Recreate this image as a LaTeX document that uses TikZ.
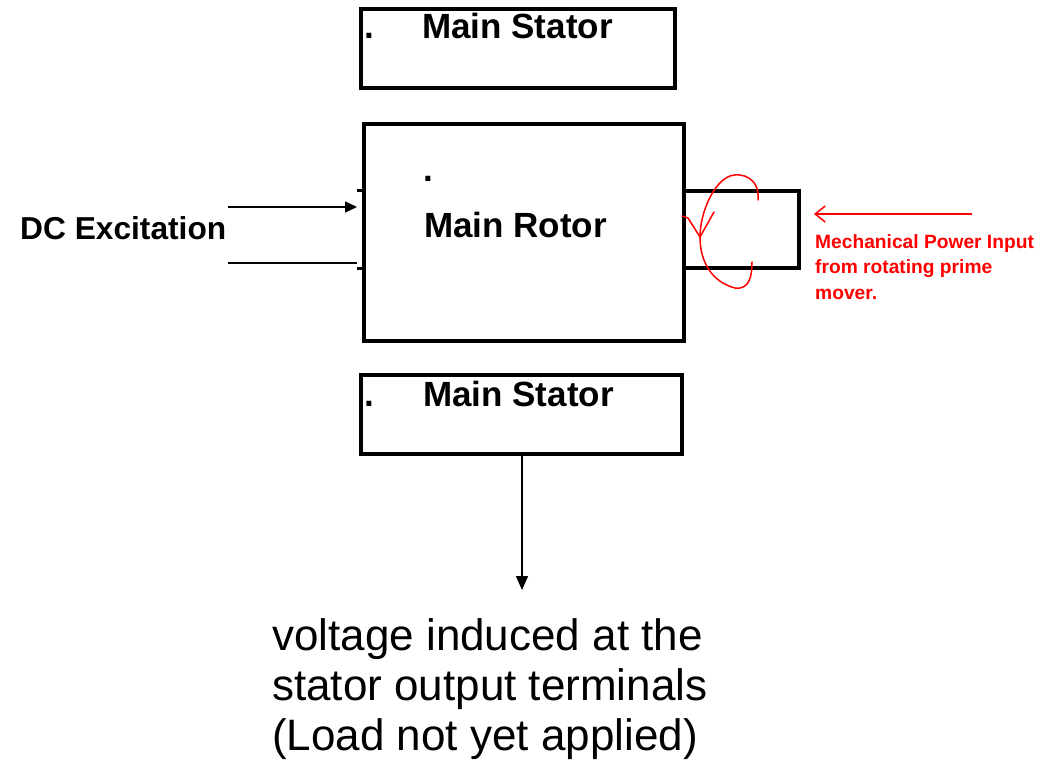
\documentclass[tikz,border=0pt]{standalone}
\usepackage{fontspec}
\setmainfont{Liberation Sans}
\usetikzlibrary{arrows.meta}
\begin{document}
\begin{tikzpicture}[x=1pt,y=-1pt,
  box/.style={draw=black,line width=3.5pt},
  lbl/.style={anchor=base west,inner sep=0pt,font=\fontsize{35}{40}\selectfont\bfseries},
  conn/.style={line width=1.6pt},
  redtxt/.style={anchor=base west,inner sep=0pt,text=red,align=left,font=\fontsize{19.2}{25.5}\selectfont\bfseries},
  bigtxt/.style={anchor=base west,inner sep=0pt,align=left,font=\fontsize{44}{50}\selectfont}]
\useasboundingbox (0,0) rectangle (1041,762);
% boxes
\draw[box] (361,9) rectangle (675,88);
\node[lbl] (ts) at (422,39) {Main Stator};
\node[lbl] (tsd) at (364,39) {.};
\draw[box] (364,124) rectangle (684,341);
\node[lbl] (mr) at (424,237) {Main Rotor};
\node[lbl] (mrd) at (423,182) {.};
\draw[box] (684,191) rectangle (799,268);
\draw[box] (361,375) rectangle (682,454);
\node[lbl] (bs) at (423,406) {Main Stator};
\node[lbl] (bsd) at (364,406) {.};
% stubs on left of rotor
\draw[line width=3pt] (357,191) -- (364,191);
\draw[line width=3pt] (357,268) -- (364,268);
% DC excitation
\node[anchor=base west,inner sep=0pt,font=\fontsize{31.7}{36}\selectfont\bfseries] (dc) at (20,240) {DC Excitation};
\coordinate (a1) at (228,207);
\coordinate (a2) at (357,207);
\coordinate (b1) at (228,263);
\coordinate (b2) at (357,263);
\draw[conn,-{Triangle[length=12pt,width=11pt]}] (a1) -- (a2);
\draw[conn] (b1) -- (b2);
% output arrow
\coordinate (o1) at (522,454);
\coordinate (o2) at (522,590);
\draw[conn,-{Triangle[length=14pt,width=12pt]}] (o1) -- (o2);
\node[bigtxt] (out) at (272,750) {voltage induced at the\\stator output terminals\\(Load not yet applied)};
% red mechanical input
\coordinate (r1) at (972,214);
\coordinate (r2) at (814,214);
\draw[red,line width=1.5pt,-{Straight Barb[length=10pt,width=16pt]}] (r1) -- (r2);
\node[redtxt] (mech) at (815,299) {Mechanical Power Input\\from rotating prime\\mover.};
% hand drawn rotation
\draw[red,line width=1.5pt,line cap=round] (758,200) .. controls (760,178) and (742,172) .. (730,176)
  .. controls (712,183) and (700,215) .. (700,237)
  .. controls (700,262) and (712,282) .. (735,288)
  .. controls (750,290) and (752,275) .. (752,262);
\draw[red,line width=1.5pt,line cap=round] (682,216) -- (688,218) -- (700,237) -- (714,212);
\end{tikzpicture}
\end{document}
